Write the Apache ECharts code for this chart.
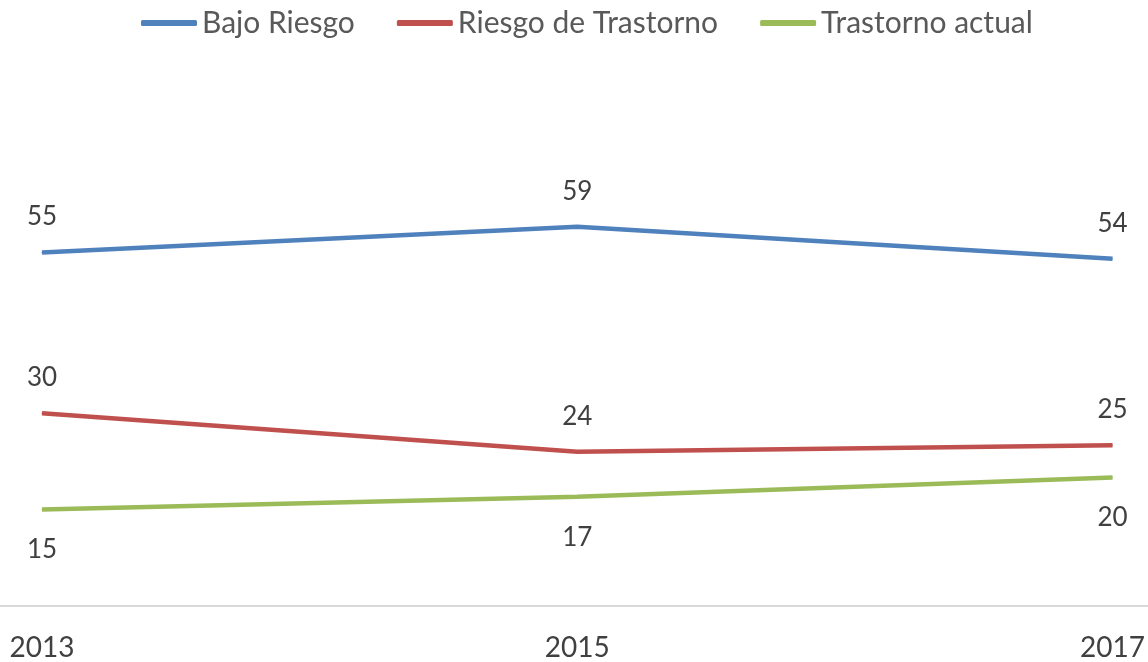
<!DOCTYPE html>
<html>
<head>
<meta charset="utf-8">
<script src="https://cdn.jsdelivr.net/npm/echarts@6/dist/echarts.min.js"></script>
<style>html,body{margin:0;padding:0;background:#fff}#c{width:1148px;height:662px}</style>
</head>
<body>
<div id="c"></div>
<script>
const years = [2013, 2015, 2017];
const seriesNames = ['Bajo Riesgo', 'Riesgo de Trastorno', 'Trastorno actual'];
const bajoRiesgo = [55, 59, 54];
const riesgoTrastorno = [30, 24, 25];
const trastornoActual = [15, 17, 20];
const colors = ['#4F81BD', '#C0504D', '#9BBB59'];
const FONT = 'Lato';

const chart = echarts.init(document.getElementById('c'));
function mk(name, vals, color, pos, dist) {
  return {
    name: name, type: 'line',
    data: years.map((y, i) => [y, vals[i]]),
    symbol: 'circle', symbolSize: 1,
    lineStyle: { color: color, width: 4.5 },
    itemStyle: { color: color },
    label: { show: true, position: pos, distance: dist, color: '#404040', fontSize: 26, fontFamily: FONT },
    emphasis: { disabled: true },
    animation: false
  };
}
chart.setOption({
  animation: false,
  color: colors,
  legend: {
    top: 3, left: 136,
    data: seriesNames,
    icon: 'roundRect',
    itemWidth: 56, itemHeight: 6, itemGap: 42,
    textStyle: { color: '#595959', fontSize: 30, fontFamily: FONT }
  },
  grid: { left: 0, right: 0, top: 156, bottom: 56 },
  xAxis: {
    type: 'value',
    min: 2012.8431, max: 2017.1307,
    splitLine: { show: false },
    axisTick: { show: false },
    axisLine: { show: true, lineStyle: { color: '#D9D9D9', width: 2 } },
    axisLabel: {
      customValues: years,
      formatter: v => String(v),
      color: '#404040', fontSize: 28, fontFamily: FONT, margin: 28
    }
  },
  yAxis: {
    type: 'value', min: 0, max: 70,
    show: false, splitLine: { show: false }
  },
  series: [
    mk(seriesNames[0], bajoRiesgo, colors[0], 'top', 22),
    mk(seriesNames[1], riesgoTrastorno, colors[1], 'top', 22),
    mk(seriesNames[2], trastornoActual, colors[2], 'bottom', 27)
  ]
});
</script>
</body>
</html>
